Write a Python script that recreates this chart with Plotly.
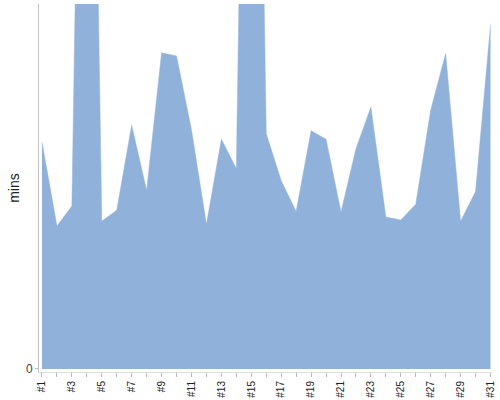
import plotly.graph_objects as go

# one value per day, in minutes
days = ["#%d" % i for i in range(1, 32)]
mins = [37.6, 23.7, 27.0, 180.7, 24.5, 26.3, 40.4, 29.6, 52.4, 51.9,
        39.6, 24.0, 38.1, 33.2, 194.6, 39.0, 31.2, 26.1, 39.5, 38.1,
        26.0, 36.5, 43.4, 25.2, 24.7, 27.3, 42.9, 52.3, 24.5, 29.4, 57.0]

x_idx = list(range(len(days)))

fig = go.Figure(go.Scatter(
    x=x_idx, y=mins,
    mode="lines",
    fill="tozeroy",
    fillcolor="rgb(144,178,218)",
    line=dict(color="rgb(144,178,218)", width=0.5),
    hoverinfo="y",
))

fig.update_layout(
    width=500, height=400,
    margin=dict(l=39, r=8, t=4, b=28),
    paper_bgcolor="white",
    plot_bgcolor="white",
    showlegend=False,
    font=dict(family="Liberation Sans, Arial, sans-serif", color="#333"),
    xaxis=dict(
        range=[-0.2, 30.1],
        automargin=False,
        tickvals=x_idx[::2],
        ticktext=days[::2],
        tickangle=-90,
        tickfont=dict(size=10, color="#222"),
        ticks="outside", ticklen=4, tickcolor="#bbb",
        minor=dict(dtick=1, ticks="outside", ticklen=4, tickcolor="#bbb"),
        showgrid=False, zeroline=False,
        showline=True, linecolor="#ddd", linewidth=1,
    ),
    yaxis=dict(
        range=[-0.5, 60.5],
        automargin=False,
        tickvals=[0],
        tickfont=dict(size=12, color="#444"),
        ticks="outside", ticklen=3, tickcolor="#bbb",
        showgrid=False, zeroline=False,
        showline=True, linecolor="#c0c0c0", linewidth=1,
        title=dict(text="mins", font=dict(size=14, color="#222"), standoff=3),
    ),
)

# drop the page's default body margin so the figure sits at the window corner
fig.write_html("out.html", config={"displayModeBar": False},
               post_script="document.body.style.margin='0';")
